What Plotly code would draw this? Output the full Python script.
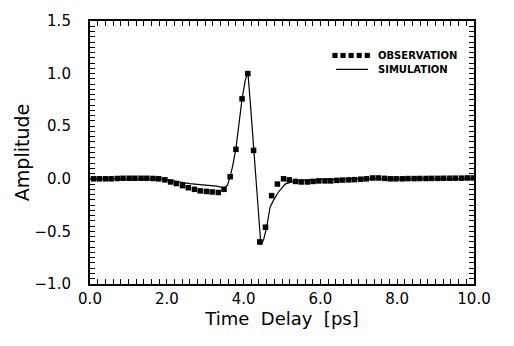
import plotly.graph_objects as go

# ---- data ----
obs_x = [0.09, 0.24, 0.40, 0.55, 0.71, 0.86, 1.02, 1.17, 1.33, 1.48,
         1.64, 1.79, 1.95, 2.10, 2.25, 2.41, 2.56, 2.72, 2.87, 3.03,
         3.18, 3.34, 3.49, 3.65, 3.80, 3.96, 4.11, 4.26, 4.42, 4.57,
         4.73, 4.88, 5.04, 5.19, 5.35, 5.50, 5.66, 5.81, 5.96, 6.12,
         6.27, 6.43, 6.58, 6.74, 6.89, 7.05, 7.20, 7.36, 7.51, 7.67,
         7.82, 7.97, 8.13, 8.28, 8.44, 8.59, 8.75, 8.90, 9.06, 9.21,
         9.37, 9.52, 9.68, 9.83, 9.98]
obs_y = [0.0, 0.0, 0.0, 0.0, 0.003, 0.005, 0.005, 0.005, 0.005, 0.005,
         0.003, 0.0, -0.01, -0.03, -0.045, -0.065, -0.085, -0.10, -0.115, -0.12,
         -0.125, -0.13, -0.10, 0.02, 0.28, 0.76, 1.00, 0.27, -0.60, -0.46,
         -0.16, -0.05, 0.0, -0.01, -0.025, -0.03, -0.03, -0.025, -0.02, -0.02,
         -0.02, -0.015, -0.012, -0.01, -0.008, -0.004, 0.0, 0.008, 0.008, 0.004,
         0.0, 0.0, 0.0, 0.002, 0.002, 0.003, 0.003, 0.004, 0.004, 0.005,
         0.005, 0.006, 0.006, 0.008, 0.008]

sim_x = [0.0, 1.5, 1.8, 2.0, 2.3, 2.6, 3.0, 3.3, 3.5, 3.58, 3.65, 3.72, 3.80,
         3.88, 3.96, 4.04, 4.11, 4.19, 4.27, 4.36, 4.45, 4.52, 4.60, 4.69,
         4.77, 4.90, 5.08, 5.29, 5.5, 6.0, 7.0, 10.0]
sim_y = [0.0, 0.0, -0.002, -0.01, -0.03, -0.045, -0.06, -0.07, -0.085, -0.06,
         0.02, 0.13, 0.29, 0.52, 0.76, 0.93, 1.02, 0.65, 0.25, -0.20, -0.63,
         -0.58, -0.46, -0.27, -0.21, -0.13, -0.05, -0.025, -0.015, -0.005, 0.0, 0.0]

x_labels = ["0.0", "2.0", "4.0", "6.0", "8.0", "10.0"]
y_labels = ["\u22121.0", "\u22120.5", "0.0", "0.5", "1.0", "1.5"]
legend_names = ["OBSERVATION", "SIMULATION"]

FONT = "DejaVu Sans"

# tick positions: minor step, labels only on every major
x_tickvals = [round(i * 0.2, 4) for i in range(51)]
x_ticktext = [x_labels[i // 10] if i % 10 == 0 else "" for i in range(51)]
y_tickvals = [round(-1.0 + i * 0.05, 4) for i in range(51)]
y_ticktext = [(y_labels[i // 10] + "\u00a0\u00a0\u00a0") if i % 10 == 0 else "" for i in range(51)]

fig = go.Figure()
fig.add_trace(go.Scatter(x=sim_x, y=sim_y, mode="lines",
                         line=dict(color="black", width=1.2), showlegend=False))
fig.add_trace(go.Scatter(x=obs_x, y=obs_y, mode="markers",
                         marker=dict(symbol="square", size=5.5, color="black",
                                     line=dict(width=0)), showlegend=False))

# manual legend (paper coords)
shapes = []
for cx in [0.638, 0.659, 0.680, 0.701, 0.722]:
    shapes.append(dict(type="rect", xref="paper", yref="paper",
                       x0=cx - 0.0068, x1=cx + 0.0068, y0=0.869 - 0.0098, y1=0.869 + 0.0098,
                       fillcolor="black", line=dict(width=0)))
shapes.append(dict(type="line", xref="paper", yref="paper",
                   x0=0.641, x1=0.724, y0=0.816, y1=0.816,
                   line=dict(color="black", width=1.2)))

annotations = [
    dict(text="<b>" + legend_names[0] + "</b>", xref="paper", yref="paper", x=0.745, y=0.869,
         xanchor="left", yanchor="middle", showarrow=False,
         font=dict(family=FONT, size=10, color="black")),
    dict(text="<b>" + legend_names[1] + "</b>", xref="paper", yref="paper", x=0.745, y=0.816,
         xanchor="left", yanchor="middle", showarrow=False,
         font=dict(family=FONT, size=10, color="black")),
]

fig.update_layout(
    width=514, height=346,
    margin=dict(l=90, r=40, t=17, b=62),
    paper_bgcolor="white", plot_bgcolor="white",
    shapes=shapes, annotations=annotations,
    xaxis=dict(range=[0, 10], tickmode="array", tickvals=x_tickvals, ticktext=x_ticktext,
               showgrid=False, zeroline=False,
               showline=True, linecolor="black", linewidth=1.5, mirror="allticks",
               ticks="inside", ticklen=5, tickwidth=1.1, tickcolor="black",
               tickfont=dict(family=FONT, size=15, color="black"),
               title=dict(text="Time\u00a0\u00a0Delay\u00a0\u00a0[ps]",
                          font=dict(family=FONT, size=18, color="black"), standoff=6)),
    yaxis=dict(range=[-1.0, 1.5], tickmode="array", tickvals=y_tickvals, ticktext=y_ticktext,
               showgrid=False, zeroline=False,
               showline=True, linecolor="black", linewidth=1.5, mirror="allticks",
               ticks="inside", ticklen=5, tickwidth=1.1, tickcolor="black",
               tickfont=dict(family=FONT, size=15, color="black"),
               title=dict(text="Amplitude",
                          font=dict(family=FONT, size=19, color="black"), standoff=0)),
)

fig.write_html("out.html")
